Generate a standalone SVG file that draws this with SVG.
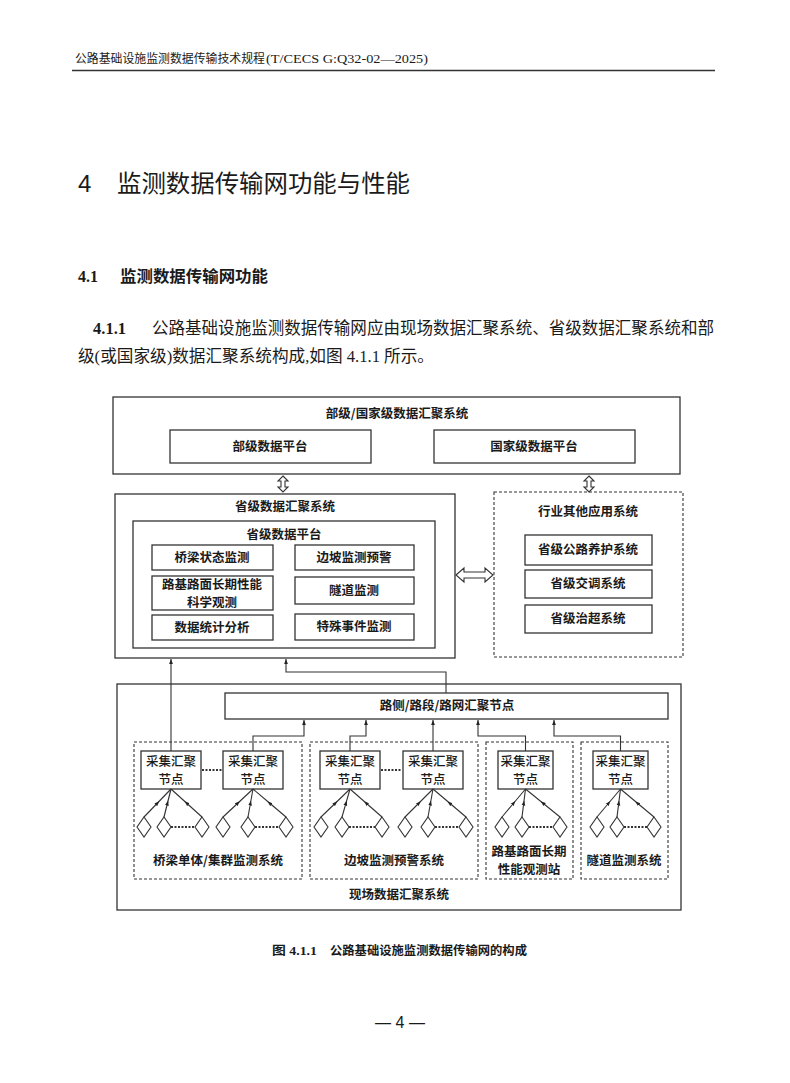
<svg xmlns="http://www.w3.org/2000/svg" width="790" height="1083" viewBox="0 0 790 1083">
<defs>
<marker id="ah" viewBox="0 0 8 8" refX="8" refY="4" markerWidth="5" markerHeight="5" orient="auto" markerUnits="userSpaceOnUse">
<path d="M0,1 L8,4 L0,7 Z" fill="#222"/>
</marker>
<marker id="am" viewBox="0 0 8 8" refX="4" refY="4" markerWidth="5" markerHeight="5" orient="auto" markerUnits="userSpaceOnUse">
<path d="M0,1 L8,4 L0,7 Z" fill="#222"/>
</marker>
<path id="dia" d="M0,-10 L7,0 L0,10 L-7,0 Z" fill="#fff" stroke="#333" stroke-width="1.1"/>
</defs>
<style>
.page{font-family:"Liberation Serif","Noto Sans CJK SC",serif;fill:#1a1a1a}
.sans{font-family:"Liberation Sans","Noto Sans CJK SC",sans-serif}
.cjk{font-family:"Noto Sans CJK SC",sans-serif}
.box{fill:#fff;stroke:#333;stroke-width:1.3}
.dash{fill:none;stroke:#333;stroke-width:1.1;stroke-dasharray:3 2}
.t{font-family:"Noto Sans CJK SC",sans-serif;font-weight:700;font-size:12.5px;fill:#1a1a1a;text-anchor:middle}
.n{font-family:"Noto Sans CJK SC",sans-serif;font-weight:500;font-size:12.5px;fill:#1a1a1a;text-anchor:middle}
.ln{fill:none;stroke:#333;stroke-width:1.1}
.dot{fill:none;stroke:#333;stroke-width:2;stroke-dasharray:2 1.5}
.dbl{fill:#fff;stroke:#333;stroke-width:1.1}
</style>
<rect width="790" height="1083" fill="#fff"/>

<g id="page-text">
<text class="page" x="75" y="63" font-size="12" textLength="190" lengthAdjust="spacingAndGlyphs">公路基础设施监测数据传输技术规程</text>
<text class="page" x="266" y="63" font-size="12.5" textLength="162" lengthAdjust="spacingAndGlyphs">(T/CECS G:Q32-02—2025)</text>
<line x1="72" y1="70.5" x2="715" y2="70.5" stroke="#333" stroke-width="1.6"/>
<text class="page sans" x="78" y="192" font-size="24">4</text>
<text class="page cjk" x="117" y="192" font-size="24" textLength="293" lengthAdjust="spacingAndGlyphs">监测数据传输网功能与性能</text>
<text class="page" x="78" y="282" font-size="16" font-weight="700">4.1</text>
<text class="page cjk" x="120" y="282" font-size="16" font-weight="700" textLength="148" lengthAdjust="spacingAndGlyphs">监测数据传输网功能</text>
<text class="page" x="93" y="334" font-size="16.5" font-weight="700">4.1.1</text>
<text class="page cjk" x="152" y="334" font-size="16.5" textLength="562" lengthAdjust="spacingAndGlyphs">公路基础设施监测数据传输网应由现场数据汇聚系统、省级数据汇聚系统和部</text>
<text class="page" x="78" y="362" font-size="16.5" textLength="356" lengthAdjust="spacingAndGlyphs">级(或国家级)数据汇聚系统构成,如图 4.1.1 所示。</text>
<text class="page" x="272" y="955" font-size="12.5" font-weight="700" textLength="45" lengthAdjust="spacingAndGlyphs">图 4.1.1</text>
<text class="page" x="330" y="955" font-size="12" font-weight="700" textLength="197" lengthAdjust="spacingAndGlyphs">公路基础设施监测数据传输网的构成</text>
<text class="page sans" x="400" y="1028" font-size="16" text-anchor="middle">— 4 —</text>
</g>

<g id="ministry-system">
<rect class="box" x="113" y="397" width="567" height="77"/>
<text class="t" x="397" y="418">部级/国家级数据汇聚系统</text>
</g>
<g id="ministry-platform">
<rect class="box" x="170" y="430" width="201" height="33"/>
<text class="t" x="270" y="451">部级数据平台</text>
</g>
<g id="national-platform">
<rect class="box" x="434" y="430" width="201" height="33"/>
<text class="t" x="534" y="451">国家级数据平台</text>
</g>

<g id="provincial-system">
<rect class="box" x="115" y="494" width="340" height="164"/>
<text class="t" x="285" y="511">省级数据汇聚系统</text>
</g>
<g id="provincial-platform">
<rect class="box" x="133" y="521" width="302" height="127"/>
<text class="t" x="284" y="539">省级数据平台</text>
</g>
<g id="bridge-monitor"><rect class="box" x="152" y="545" width="121" height="25"/><text class="t" x="212" y="562">桥梁状态监测</text></g>
<g id="slope-warning"><rect class="box" x="295" y="545" width="119" height="25"/><text class="t" x="354" y="562">边坡监测预警</text></g>
<g id="pavement-observe"><rect class="box" x="152" y="576" width="121" height="34"/><text class="t" x="212" y="589" font-size="12">路基路面长期性能</text><text class="t" x="212" y="606.5" font-size="12">科学观测</text></g>
<g id="tunnel-monitor"><rect class="box" x="295" y="577" width="119" height="27"/><text class="t" x="354" y="595">隧道监测</text></g>
<g id="data-stats"><rect class="box" x="152" y="615" width="121" height="25"/><text class="t" x="212" y="632">数据统计分析</text></g>
<g id="event-monitor"><rect class="box" x="295" y="614" width="119" height="26"/><text class="t" x="354" y="631">特殊事件监测</text></g>

<g id="industry-apps">
<rect class="dash" x="494" y="492" width="189" height="165"/>
<text class="t" x="588" y="516">行业其他应用系统</text>
</g>
<g id="maintenance"><rect class="box" x="525" y="535" width="127" height="30"/><text class="t" x="588" y="554">省级公路养护系统</text></g>
<g id="traffic"><rect class="box" x="525" y="570" width="127" height="28"/><text class="t" x="588" y="588">省级交调系统</text></g>
<g id="overload"><rect class="box" x="525" y="605" width="127" height="28"/><text class="t" x="588" y="623">省级治超系统</text></g>

<g id="field-system">
<rect class="box" x="117" y="684" width="564" height="226"/>
<text class="t" x="399" y="899">现场数据汇聚系统</text>
</g>
<g id="roadside-node">
<rect class="box" x="225" y="693" width="443" height="26"/>
<text class="t" x="447" y="710">路侧/路段/路网汇聚节点</text>
</g>

<g id="bridge-group">
<rect class="dash" x="134" y="742" width="168" height="137"/>
<text class="t" x="218" y="865">桥梁单体/集群监测系统</text>
</g>
<g id="slope-group">
<rect class="dash" x="310" y="742" width="168" height="137"/>
<text class="t" x="394" y="865">边坡监测预警系统</text>
</g>
<g id="pavement-group">
<rect class="dash" x="486" y="742" width="87" height="137"/>
<text class="t" x="529" y="856">路基路面长期</text>
<text class="t" x="529" y="874">性能观测站</text>
</g>
<g id="tunnel-group">
<rect class="dash" x="581" y="742" width="87" height="137"/>
<text class="t" x="624" y="865">隧道监测系统</text>
</g>

<g id="node-b1"><rect class="box" x="141" y="751" width="60" height="38"/><text class="n" x="171" y="766">采集汇聚</text><text class="n" x="171" y="784">节点</text></g>
<g id="node-b2"><rect class="box" x="223" y="751" width="60" height="38"/><text class="n" x="253" y="766">采集汇聚</text><text class="n" x="253" y="784">节点</text></g>
<g id="node-s1"><rect class="box" x="320" y="751" width="60" height="38"/><text class="n" x="350" y="766">采集汇聚</text><text class="n" x="350" y="784">节点</text></g>
<g id="node-s2"><rect class="box" x="403" y="751" width="60" height="38"/><text class="n" x="433" y="766">采集汇聚</text><text class="n" x="433" y="784">节点</text></g>
<g id="node-p1"><rect class="box" x="498" y="751" width="55" height="38"/><text class="n" x="525.5" y="766">采集汇聚</text><text class="n" x="525.5" y="784">节点</text></g>
<g id="node-t1"><rect class="box" x="593" y="751" width="55" height="38"/><text class="n" x="620.5" y="766">采集汇聚</text><text class="n" x="620.5" y="784">节点</text></g>

<g id="sensors">
<use href="#dia" x="144" y="827"/><use href="#dia" x="164" y="827"/><use href="#dia" x="202" y="827"/>
<use href="#dia" x="223" y="827"/><use href="#dia" x="248" y="827"/><use href="#dia" x="286" y="827"/>
<use href="#dia" x="321" y="827"/><use href="#dia" x="342" y="827"/><use href="#dia" x="382" y="827"/>
<use href="#dia" x="405" y="827"/><use href="#dia" x="428" y="827"/><use href="#dia" x="466" y="827"/>
<use href="#dia" x="502" y="827"/><use href="#dia" x="522" y="827"/><use href="#dia" x="560" y="827"/>
<use href="#dia" x="597" y="827"/><use href="#dia" x="617" y="827"/><use href="#dia" x="654" y="827"/>
</g>

<g id="connectors">
<path class="dbl" d="M283,476 L288,481 L285,481 L285,487 L288,487 L283,492 L278,487 L281,487 L281,481 L278,481 Z"/>
<path class="dbl" d="M589,476 L594,481 L591,481 L591,487 L594,487 L589,492 L584,487 L587,487 L587,481 L584,481 Z"/>
<path class="dbl" d="M456,575 L464,568 L464,572 L485,572 L485,568 L493,575 L485,582 L485,578 L464,578 L464,582 Z"/>
<line class="ln" x1="171" y1="751" x2="171" y2="659" marker-end="url(#ah)"/>
<polyline class="ln" points="446,693 446,672 286,672 286,659" marker-end="url(#ah)"/>
<polyline class="ln" points="253,751 253,736 304,736 304,720" marker-end="url(#ah)"/>
<polyline class="ln" points="350,751 350,736 366,736 366,720" marker-end="url(#ah)"/>
<line class="ln" x1="433" y1="751" x2="433" y2="720" marker-end="url(#ah)"/>
<polyline class="ln" points="525.5,751 525.5,736 478,736 478,720" marker-end="url(#ah)"/>
<polyline class="ln" points="620.5,751 620.5,736 554,736 554,720" marker-end="url(#ah)"/>
<line class="dot" x1="202" y1="770" x2="222" y2="770"/>
<line class="dot" x1="381" y1="770" x2="402" y2="770"/>
<polyline class="ln" points="144,817 157.5,803 171,789" marker-mid="url(#am)"/>
<polyline class="ln" points="164,817 167.5,803 171,789" marker-mid="url(#am)"/>
<polyline class="ln" points="202,817 186.5,803 171,789" marker-mid="url(#am)"/>
<polyline class="ln" points="223,817 238,803 253,789" marker-mid="url(#am)"/>
<polyline class="ln" points="248,817 250.5,803 253,789" marker-mid="url(#am)"/>
<polyline class="ln" points="286,817 269.5,803 253,789" marker-mid="url(#am)"/>
<polyline class="ln" points="321,817 335.5,803 350,789" marker-mid="url(#am)"/>
<polyline class="ln" points="342,817 346,803 350,789" marker-mid="url(#am)"/>
<polyline class="ln" points="382,817 366,803 350,789" marker-mid="url(#am)"/>
<polyline class="ln" points="405,817 419,803 433,789" marker-mid="url(#am)"/>
<polyline class="ln" points="428,817 430.5,803 433,789" marker-mid="url(#am)"/>
<polyline class="ln" points="466,817 449.5,803 433,789" marker-mid="url(#am)"/>
<polyline class="ln" points="502,817 513.75,803 525.5,789" marker-mid="url(#am)"/>
<polyline class="ln" points="522,817 523.75,803 525.5,789" marker-mid="url(#am)"/>
<polyline class="ln" points="560,817 542.75,803 525.5,789" marker-mid="url(#am)"/>
<polyline class="ln" points="597,817 608.75,803 620.5,789" marker-mid="url(#am)"/>
<polyline class="ln" points="617,817 618.75,803 620.5,789" marker-mid="url(#am)"/>
<polyline class="ln" points="654,817 637.25,803 620.5,789" marker-mid="url(#am)"/>
<line class="dot" x1="171" y1="827" x2="195" y2="827"/>
<line class="dot" x1="255" y1="827" x2="279" y2="827"/>
<line class="dot" x1="349" y1="827" x2="375" y2="827"/>
<line class="dot" x1="435" y1="827" x2="459" y2="827"/>
<line class="dot" x1="529" y1="827" x2="553" y2="827"/>
<line class="dot" x1="624" y1="827" x2="647" y2="827"/>
</g>
</svg>
